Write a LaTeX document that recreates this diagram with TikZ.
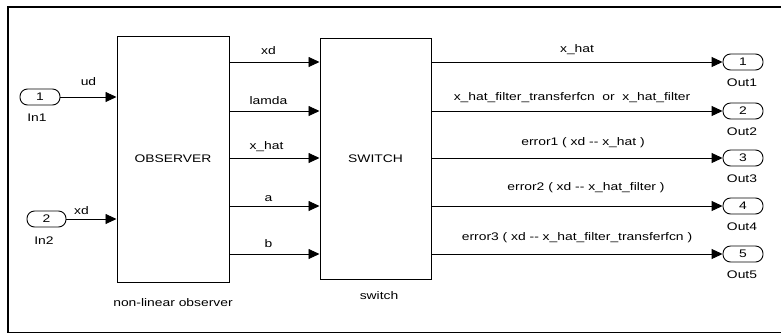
\documentclass[tikz,border=0pt]{standalone}
\usepackage{fontspec}
\setmainfont{Liberation Sans}[FakeStretch=1.26]
\usetikzlibrary{arrows.meta}
\begin{document}
\begin{tikzpicture}[x=1bp,y=-1bp,
  every node/.style={font=\fontsize{11bp}{13bp}\selectfont, inner sep=1bp},
  block/.style={draw, line width=1bp, minimum width=#1, inner sep=0pt},
  port/.style={draw, line width=0.9bp, rounded corners=7.5bp, minimum width=40bp, minimum height=16bp, inner sep=0pt},
  sig/.style={line width=0.9bp, -{Triangle[length=11bp,width=10bp]}},
  lbl/.style={above=2bp, yshift=#1},
  lbl/.default=0bp
]
\useasboundingbox (0,0) rectangle (781,335);
\draw[line width=1.2bp] (781,7) -- (8,7) -- (8,332.5) -- (781,332.5);

% blocks
\node[block=112bp, minimum height=246bp] (obs) at (173,159) {OBSERVER};
\node[block=111bp, minimum height=241bp] (sw) at (375.5,158.5) {SWITCH};
\node (obslbl) at (173,303) {non-linear observer};
\node (swlbl) at (379,296) {switch};

% inports
\node[port] (in1) at (40,97) {1};
\node[port, minimum width=39bp] (in2) at (46.5,219) {2};
\node (in1l) at (37,118) {In1};
\node (in2l) at (44,241) {In2};

% outports
\foreach \i/\y in {1/62,2/111,3/158,4/206,5/254}{
  \node[port] (out\i) at (743,\y) {\i};
  \node (out\i l) at (742,\y+21) {Out\i};
}

% inputs
\draw[sig] (in1.east) -- (in1.east -| obs.west) node[lbl=8bp, pos=0.5] {ud};
\draw[sig] (in2.east) -- (in2.east -| obs.west) node[lbl=1bp, pos=0.3] {xd};

% observer -> switch
\draw[sig] (obs.east |- out1) -- (sw.west |- out1) node[lbl=4bp, midway, xshift=-6bp] {xd};
\draw[sig] (obs.east |- out2) -- (sw.west |- out2) node[lbl=3bp, midway, xshift=-6bp] {lamda};
\draw[sig] (obs.east |- out3) -- (sw.west |- out3) node[lbl=3bp, midway, xshift=-8bp] {x\_hat};
\draw[sig] (obs.east |- out4) -- (sw.west |- out4) node[lbl=1bp, midway, xshift=-6bp] {a};
\draw[sig] (obs.east |- out5) -- (sw.west |- out5) node[lbl=3bp, midway, xshift=-6bp] {b};

% switch -> outports
\draw[sig] (sw.east |- out1) -- (out1.west) node[lbl=4bp, midway] {x\_hat};
\draw[sig] (sw.east |- out2) -- (out2.west) node[lbl=5bp, midway, xshift=-5bp] {x\_hat\_filter\_transferfcn\ \ or\ \ x\_hat\_filter};
\draw[sig] (sw.east |- out3) -- (out3.west) node[lbl=7bp, midway, xshift=6bp] {error1 ( xd -{}- x\_hat )};
\draw[sig] (sw.east |- out4) -- (out4.west) node[lbl=10bp, midway, xshift=9bp] {error2 ( xd -{}- x\_hat\_filter )};
\draw[sig] (sw.east |- out5) -- (out5.west) node[lbl=8bp, midway] {error3 ( xd -{}- x\_hat\_filter\_transferfcn )};
\end{tikzpicture}
\end{document}
